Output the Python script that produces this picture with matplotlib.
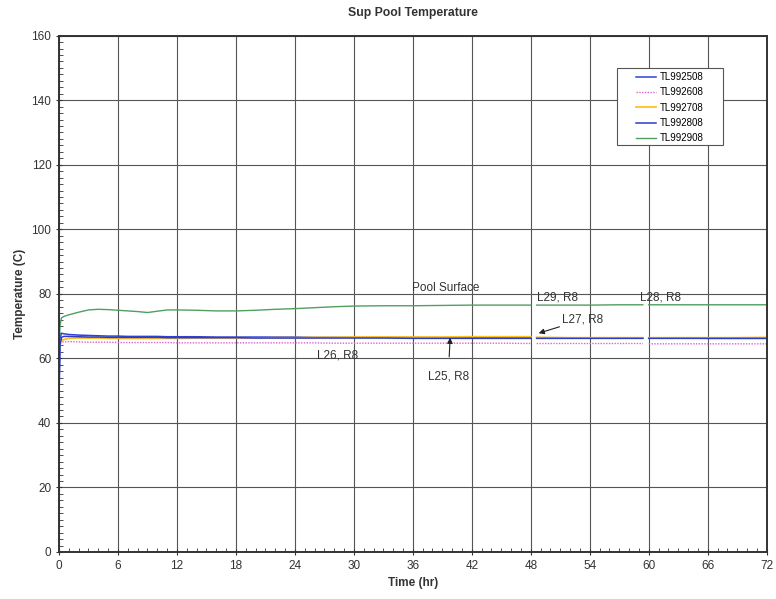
import numpy as np
import matplotlib.pyplot as plt
from matplotlib.ticker import MultipleLocator
from matplotlib.patches import Rectangle

plt.rcParams['font.family'] = ['Liberation Sans', 'DejaVu Sans']

# time in hours, nan marks the short data gaps
hours = [0, 0.1, 0.25, 0.5, 1, 2, 3, 4, 5, 6, 7, 8, 9, 10, 11, 12, 14, 16, 18,
         20, 22, 24, 26, 28, 30, 33, 36, 39, 42, 45, 48, np.nan, 48.6, 51, 54,
         57, 59.4, np.nan, 60.0, 63, 66, 69, 72]

tl2508 = [46, 66.0, 67.8, 67.6, 67.4, 67.2, 67.1, 67.0, 66.9, 66.9, 66.8, 66.8,
          66.8, 66.8, 66.7, 66.7, 66.7, 66.6, 66.6, 66.6, 66.6, 66.6, 66.5, 66.5,
          66.5, 66.5, 66.5, 66.4, 66.4, 66.4, 66.4, np.nan, 66.4, 66.4, 66.3,
          66.3, 66.3, np.nan, 66.3, 66.3, 66.2, 66.2, 66.2]
tl2608 = [62, 64.5, 65.0, 65.1, 65.2, 65.1, 65.0, 65.0, 65.0, 64.9, 64.9, 64.9,
          64.9, 64.9, 64.9, 64.8, 64.8, 64.8, 64.8, 64.8, 64.8, 64.8, 64.8, 64.7,
          64.7, 64.7, 64.7, 64.7, 64.7, 64.7, 64.6, np.nan, 64.6, 64.6, 64.6,
          64.6, 64.6, np.nan, 64.5, 64.5, 64.5, 64.5, 64.5]
tl2708 = [60, 65.0, 65.5, 65.8, 66.2, 66.3, 66.3, 66.3, 66.2, 66.2, 66.2, 66.2,
          66.2, 66.2, 66.2, 66.2, 66.3, 66.3, 66.3, 66.3, 66.4, 66.4, 66.5, 66.5,
          66.6, 66.6, 66.6, 66.6, 66.7, 66.7, 66.7, np.nan, 66.5, 66.4, 66.4,
          66.4, 66.4, np.nan, 66.4, 66.4, 66.4, 66.4, 66.5]
tl2808 = [50, 64.0, 66.5, 66.8, 66.8, 66.7, 66.6, 66.6, 66.5, 66.5, 66.5, 66.5,
          66.5, 66.5, 66.4, 66.4, 66.4, 66.4, 66.4, 66.3, 66.3, 66.3, 66.3, 66.3,
          66.3, 66.3, 66.2, 66.2, 66.2, 66.2, 66.2, np.nan, 66.2, 66.2, 66.2,
          66.2, 66.2, np.nan, 66.2, 66.2, 66.2, 66.2, 66.2]
tl2908 = [62, 70.0, 72.5, 73.0, 73.5, 74.3, 75.0, 75.2, 75.1, 74.9, 74.7, 74.5,
          74.2, 74.6, 75.0, 75.0, 74.9, 74.7, 74.7, 74.9, 75.2, 75.4, 75.7, 76.0,
          76.2, 76.3, 76.3, 76.4, 76.5, 76.5, 76.5, np.nan, 76.5, 76.5, 76.5,
          76.6, 76.6, np.nan, 76.6, 76.6, 76.6, 76.6, 76.6]

fig = plt.figure(figsize=(7.76, 5.99), dpi=100)
ax = fig.add_axes([0.076, 0.0785, 0.912, 0.862])

ax.plot(hours, tl2508, color='#3040d8', lw=1.1, label='TL992508')
ax.plot(hours, tl2608, color='#e060d0', lw=1.0, ls=(0, (1, 1)), label='TL992608')
ax.plot(hours, tl2708, color='#ffc020', lw=1.3, label='TL992708')
ax.plot(hours, tl2808, color='#2a3cc8', lw=1.1, label='TL992808')
ax.plot(hours, tl2908, color='#50a060', lw=1.0, label='TL992908')

ax.set_xlim(0, 72)
ax.set_ylim(0, 160)
ax.xaxis.set_major_locator(MultipleLocator(6))
ax.xaxis.set_minor_locator(MultipleLocator(1))
ax.yaxis.set_major_locator(MultipleLocator(20))
ax.yaxis.set_minor_locator(MultipleLocator(2))
ax.tick_params(which='major', labelsize=8.5, length=4, direction='inout', colors='#333333')
ax.tick_params(which='minor', length=3, direction='in', color='#333333')
ax.grid(which='major', color='#555555', lw=0.8)
for s in ax.spines.values():
    s.set_color('#333333')
    s.set_linewidth(1.4)

ax.set_xlabel('Time (hr)', fontsize=8.5, fontweight='bold', color='#333333')
ax.set_ylabel('Temperature (C)', fontsize=8.5, fontweight='bold', color='#333333')
ax.set_title('Sup Pool Temperature', fontsize=8.8, fontweight='bold', color='#333333', pad=14)

# annotations
tcol = '#333333'
ax.text(35.9, 81.9, 'Pool Surface', fontsize=8.5, va='center', color=tcol)
ax.text(48.6, 78.8, 'L29, R8', fontsize=8.5, va='center', color=tcol)
ax.text(59.1, 79.0, 'L28, R8', fontsize=8.5, va='center', color=tcol)
ax.text(26.3, 60.8, 'L26, R8', fontsize=8.5, va='center', color=tcol)
ax.annotate('L27, R8', xy=(48.8, 67.8), xytext=(51.2, 72.0), fontsize=8.5,
            va='center', color=tcol,
            arrowprops=dict(arrowstyle='-|>', color='#222222', lw=0.8, shrinkA=0, shrinkB=0,
                            mutation_scale=8))
ax.annotate('L25, R8', xy=(39.8, 66.4), xytext=(37.5, 54.3), fontsize=8.5,
            va='center', color=tcol,
            arrowprops=dict(arrowstyle='-|>', color='#222222', lw=0.8, shrinkA=8, shrinkB=0,
                            mutation_scale=8))

# legend: box drawn separately so the wide side padding matches
fig.patches.append(Rectangle((617 / 776, 1 - 145 / 599), 106 / 776, 77 / 599,
                             transform=fig.transFigure, facecolor='white',
                             edgecolor='#555555', lw=0.8, zorder=4))
leg = fig.legend(loc='upper left', bbox_to_anchor=(636 / 776, 1 - 72 / 599), fontsize=7,
                 frameon=False, handlelength=2.1, handletextpad=0.3, labelspacing=0.55,
                 borderpad=0, borderaxespad=0)
leg.set_zorder(5)

fig.savefig('out.png', dpi=100)
